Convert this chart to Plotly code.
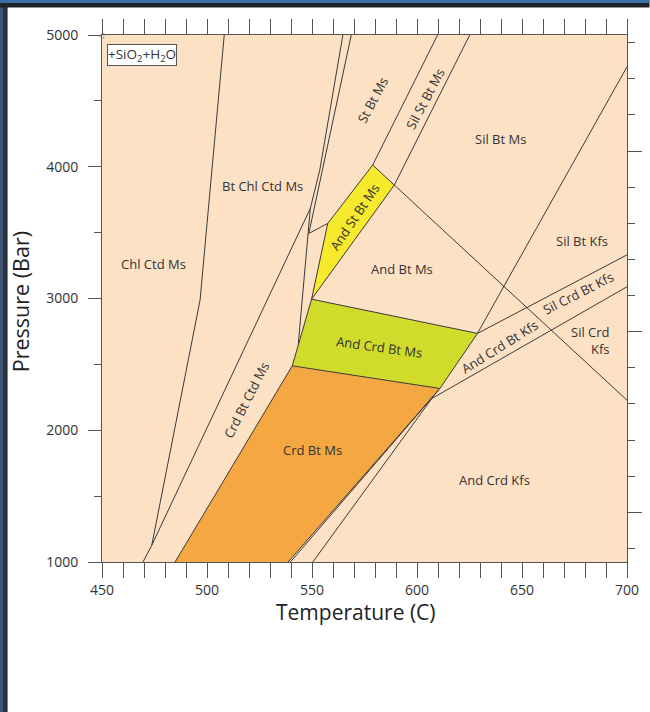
import plotly.graph_objects as go

# ---------------- data (Temperature in C, Pressure in bar) ----------
# filled fields
crd_bt_ms_T = [484.8, 540.6, 610.9, 538.6]
crd_bt_ms_P = [1000, 2489, 2317, 1000]
and_crd_bt_ms_T = [540.6, 549.8, 628.8, 610.9]
and_crd_bt_ms_P = [2489, 2995, 2735, 2317]
and_st_bt_ms_T = [549.8, 557.5, 578.9, 589.2]
and_st_bt_ms_P = [2995, 3570, 4013, 3861]

# reaction lines
chl_line_T = [508.2, 496.7, 473.7, 469.5]
chl_line_P = [5000, 2988, 1127, 1000]
crd_ctd_T = [473.7, 549.2]
crd_ctd_P = [1127, 3684]
st_in_a_T = [564.7, 553.7, 549.2, 543.5]
st_in_a_P = [5000, 3975, 3684, 2659]
st_in_b_T = [568.7, 548.5, 557.5]
st_in_b_P = [5000, 3494, 3570]
and_left_T = [484.8, 540.6, 549.8, 557.5, 578.9, 609.8]
and_left_P = [1000, 2489, 2995, 3570, 4013, 5000]
sil_st_T = [549.8, 589.2, 625.1]
sil_st_P = [2995, 3861, 5000]
and_sil_T = [578.9, 589.2, 700]
and_sil_P = [4013, 3861, 2228]
crd_top_T = [549.8, 628.8]
crd_top_P = [2995, 2735]
crd_bottom_T = [540.6, 610.9]
crd_bottom_P = [2489, 2317]
ms_out_T = [538.6, 610.9, 628.8, 700]
ms_out_P = [1000, 2317, 2735, 4759]
ms_out2_T = [539.7, 610.3]
ms_out2_P = [1000, 2305]
kfs_low_T = [550.4, 607.0, 700]
kfs_low_P = [1000, 2240, 3089]
kfs_up_T = [628.8, 700]
kfs_up_P = [2735, 3331]

# field labels: text, T, P, angle
labels = [
    ("Chl Ctd Ms", 474.5, 3261, 0),
    ("Bt Chl Ctd Ms", 526.2, 3853, 0),
    ("Crd Bt Ctd Ms", 518.8, 2228, -63),
    ("Crd Bt Ms", 550.1, 1849, 0),
    ("And Crd Bt Ms", 582.1, 2633, 8),
    ("And Bt Ms", 592.9, 3223, 0),
    ("And St Bt Ms", 570.2, 3620, -56),
    ("St Bt Ms", 578.9, 4506, -62),
    ("Sil St Bt Ms", 604.2, 4519, -62),
    ("Sil Bt Ms", 639.9, 4208, 0),
    ("Sil Bt Kfs", 678.6, 3438, 0),
    ("Sil Crd Bt Kfs", 677.0, 3038, -27),
    ("And Crd Bt Kfs", 639.1, 2633, -32),
    ("And Crd Kfs", 637.0, 1621, 0),
]

x_major = list(range(450, 701, 50))
y_major = list(range(1000, 5001, 1000))

# ---------------- figure ----------------
W, H = 650, 712
L, R, T, B = 102, 22.5, 35, 150.3
PEACH = "#FDE1C5"
LINE = "#3a3a3a"
FONT = "Open Sans"

fig = go.Figure()

for tx, px, col in [(crd_bt_ms_T, crd_bt_ms_P, "#F5A742"),
                    (and_crd_bt_ms_T, and_crd_bt_ms_P, "#D0DB2C"),
                    (and_st_bt_ms_T, and_st_bt_ms_P, "#F7EA2C")]:
    fig.add_trace(go.Scatter(x=tx, y=px, mode="lines", fill="toself", fillcolor=col,
                             line=dict(width=0), hoverinfo="skip", showlegend=False))

for tx, px in [(chl_line_T, chl_line_P), (crd_ctd_T, crd_ctd_P), (st_in_a_T, st_in_a_P),
               (st_in_b_T, st_in_b_P), (and_left_T, and_left_P), (sil_st_T, sil_st_P),
               (and_sil_T, and_sil_P), (crd_top_T, crd_top_P), (crd_bottom_T, crd_bottom_P),
               (ms_out_T, ms_out_P), (ms_out2_T, ms_out2_P), (kfs_low_T, kfs_low_P),
               (kfs_up_T, kfs_up_P)]:
    fig.add_trace(go.Scatter(x=tx, y=px, mode="lines", line=dict(color=LINE, width=1),
                             hoverinfo="skip", showlegend=False))

# dummy trace to activate right-hand tick axis
fig.add_trace(go.Scatter(x=[], y=[], yaxis="y2", showlegend=False, hoverinfo="skip"))

for text, tx, py, ang in labels:
    fig.add_annotation(x=tx, y=py, xref="x", yref="y", text=text, showarrow=False,
                       textangle=ang, font=dict(family=FONT, size=13, color="#333"))

fig.add_annotation(x=692.9, y=2678, xref="x", yref="y", text="Sil Crd<br>Kfs",
                   showarrow=False, xanchor="right", align="right",
                   font=dict(family=FONT, size=13, color="#333"))

fig.add_annotation(x=452.6, y=4932, xref="x", yref="y", xanchor="left", yanchor="top",
                   text="+SiO<sub>2</sub>+H<sub>2</sub>O", showarrow=False,
                   bgcolor="white", bordercolor="#555", borderwidth=1, borderpad=0,
                   font=dict(family=FONT, size=13.5, color="#333"))

fig.add_annotation(x=0, y=1, xref="paper", yref="paper", text="\u25c1", showarrow=False,
                   xshift=-7, yshift=6, font=dict(family="DejaVu Sans", size=8, color="#777"))

# axis titles
fig.add_annotation(x=571, y=0, xref="x", yref="paper", text="Temperature (C)", showarrow=False,
                   yanchor="middle", yshift=-50, font=dict(family=FONT, size=21, color="#222"))
fig.add_annotation(x=0, y=2972, xref="paper", yref="y", text="Pressure (Bar)", showarrow=False,
                   textangle=-90, xanchor="center", xshift=-82,
                   font=dict(family=FONT, size=21.5, color="#222"))

# page frame decoration (dark strips left and top)
pw = W - L - R
ph = H - T - B
def px2paper_x(v):
    return (v - L) / pw
def py2paper_y(v):
    return (H - B - v) / ph

fig.add_shape(type="rect", xref="paper", yref="paper", x0=px2paper_x(0), x1=px2paper_x(7.5),
              y0=py2paper_y(H), y1=py2paper_y(0), fillcolor="#27313d", line=dict(width=0), layer="above")
fig.add_shape(type="rect", xref="paper", yref="paper", x0=px2paper_x(0), x1=px2paper_x(3),
              y0=py2paper_y(H), y1=py2paper_y(0), fillcolor="#3d5573", line=dict(width=0), layer="above")
fig.add_shape(type="rect", xref="paper", yref="paper", x0=px2paper_x(0), x1=px2paper_x(W),
              y0=py2paper_y(7.5), y1=py2paper_y(0), fillcolor="#1f2329", line=dict(width=0), layer="above")
fig.add_shape(type="rect", xref="paper", yref="paper", x0=px2paper_x(0), x1=px2paper_x(W),
              y0=py2paper_y(3), y1=py2paper_y(0), fillcolor="#3a6fa8", line=dict(width=0), layer="above")

axis_common = dict(showgrid=False, zeroline=False, showline=True, linecolor="#555", linewidth=1,
                   ticks="outside", tickcolor="#555", tickwidth=1, automargin=False,
                   tickfont=dict(family=FONT, size=14, color="#333"))

fig.update_layout(
    width=W, height=H,
    margin=dict(l=L, r=R, t=T, b=B, pad=0),
    paper_bgcolor="white", plot_bgcolor=PEACH,
    xaxis=dict(range=[450, 700], tickvals=x_major, ticklen=15, mirror="allticks",
               minor=dict(dtick=10, ticklen=7, ticks="outside", tickcolor="#555", showgrid=False),
               ticklabelstandoff=0, **axis_common),
    yaxis=dict(range=[1000, 5000], tickvals=y_major, ticklen=13, mirror=True,
               minor=dict(dtick=500, ticklen=7, ticks="outside", tickcolor="#555", showgrid=False),
               ticklabelstandoff=7, **axis_common),
    yaxis2=dict(overlaying="y", side="right", range=[-1.377, 13.213], tick0=0, dtick=5,
                ticks="outside", ticklen=14, tickcolor="#555", showticklabels=False,
                showgrid=False, zeroline=False, showline=False, automargin=False,
                minor=dict(dtick=1, ticklen=7, ticks="outside", tickcolor="#555", showgrid=False)),
)

fig.write_html("out.html", config={"displayModeBar": False},
               post_script="document.body.style.margin='0';document.body.style.padding='0';")
